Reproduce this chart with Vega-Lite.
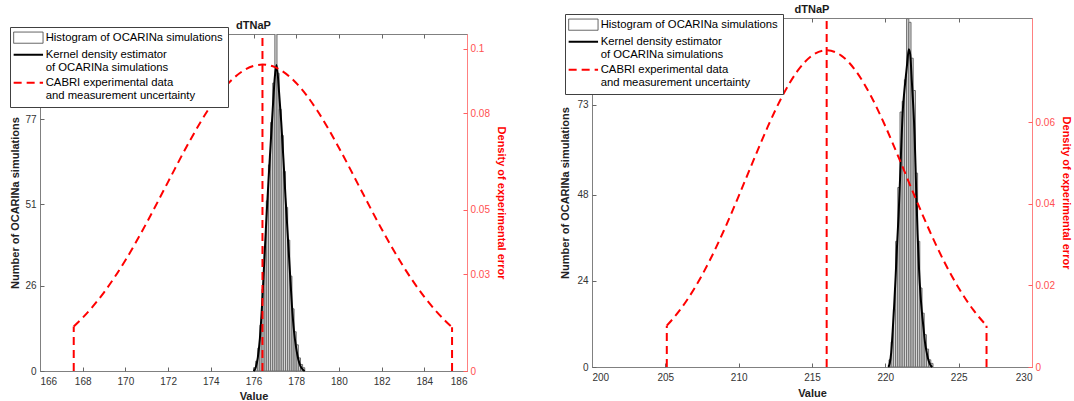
{
  "$schema": "https://vega.github.io/schema/vega-lite/v6.json",
  "padding": {"left": 9, "top": 3, "right": 2, "bottom": 0},
  "background": "white",
  "config": {
    "font": "Liberation Sans",
    "view": {"stroke": null},
    "axis": {"grid": false, "labelFont": "Liberation Sans", "titleFont": "Liberation Sans", "labelFontSize": 10, "titleFontSize": 11, "titleFontWeight": "bold", "labelColor": "#333333", "titleColor": "#222222", "domainColor": "#808080", "tickColor": "#666666"},
    "title": {"font": "Liberation Sans", "fontSize": 11, "fontWeight": "bold", "color": "#1a1a1a"},
    "legend": {"labelFont": "Liberation Sans"}
  },
  "datasets": {
    "histL": [
      {"start": 176.0, "end": 176.1, "count": 1}, {"start": 176.1, "end": 176.2, "count": 3}, {"start": 176.2, "end": 176.3, "count": 7},
      {"start": 176.3, "end": 176.4, "count": 14}, {"start": 176.4, "end": 176.5, "count": 25}, {"start": 176.5, "end": 176.6, "count": 38},
      {"start": 176.6, "end": 176.7, "count": 52}, {"start": 176.7, "end": 176.8, "count": 63}, {"start": 176.8, "end": 176.9, "count": 76},
      {"start": 176.9, "end": 177.0, "count": 88}, {"start": 177.0, "end": 177.1, "count": 110}, {"start": 177.1, "end": 177.2, "count": 91},
      {"start": 177.2, "end": 177.3, "count": 80}, {"start": 177.3, "end": 177.4, "count": 72}, {"start": 177.4, "end": 177.5, "count": 61},
      {"start": 177.5, "end": 177.6, "count": 50}, {"start": 177.6, "end": 177.7, "count": 40}, {"start": 177.7, "end": 177.8, "count": 29},
      {"start": 177.8, "end": 177.9, "count": 19}, {"start": 177.9, "end": 178.0, "count": 12}, {"start": 178.0, "end": 178.1, "count": 8},
      {"start": 178.1, "end": 178.2, "count": 4}, {"start": 178.2, "end": 178.3, "count": 2}, {"start": 178.3, "end": 178.4, "count": 1}
    ],
    "kdeL": [
      {"x": 176.0, "count": 0}, {"x": 176.1, "count": 1}, {"x": 176.2, "count": 4}, {"x": 176.3, "count": 10}, {"x": 176.4, "count": 20},
      {"x": 176.5, "count": 33}, {"x": 176.6, "count": 46}, {"x": 176.7, "count": 58}, {"x": 176.8, "count": 69}, {"x": 176.9, "count": 80},
      {"x": 177.0, "count": 90}, {"x": 177.08, "count": 93.5}, {"x": 177.2, "count": 85}, {"x": 177.3, "count": 76}, {"x": 177.4, "count": 65},
      {"x": 177.5, "count": 53}, {"x": 177.6, "count": 42}, {"x": 177.7, "count": 31}, {"x": 177.8, "count": 20}, {"x": 177.9, "count": 12},
      {"x": 178.0, "count": 7}, {"x": 178.1, "count": 3.5}, {"x": 178.2, "count": 1.5}, {"x": 178.3, "count": 0.5}, {"x": 178.4, "count": 0}
    ],
    "cabL": [
      {"x": 167.58, "d": 0.01381}, {"x": 168, "d": 0.01653}, {"x": 169, "d": 0.02443}, {"x": 170, "d": 0.03437}, {"x": 171, "d": 0.04605},
      {"x": 172, "d": 0.05871}, {"x": 173, "d": 0.07125}, {"x": 174, "d": 0.0823}, {"x": 175, "d": 0.09048}, {"x": 176, "d": 0.09469},
      {"x": 176.42, "d": 0.0951}, {"x": 177, "d": 0.09431}, {"x": 178, "d": 0.08941}, {"x": 179, "d": 0.08069}, {"x": 180, "d": 0.0693},
      {"x": 181, "d": 0.05666}, {"x": 182, "d": 0.04409}, {"x": 183, "d": 0.03265}, {"x": 184, "d": 0.02301}, {"x": 185, "d": 0.01545},
      {"x": 185.3, "d": 0.01357}
    ],
    "vlinesL": [
      {"x": 167.58, "d0": 0, "d1": 0.01381}, {"x": 185.3, "d0": 0, "d1": 0.01357}, {"x": 176.42, "d0": 0, "d1": 0.1046}
    ],
    "histR": [
      {"start": 220.25, "end": 220.4, "count": 2}, {"start": 220.4, "end": 220.55, "count": 7}, {"start": 220.55, "end": 220.7, "count": 16},
      {"start": 220.7, "end": 220.85, "count": 35}, {"start": 220.85, "end": 221.0, "count": 50}, {"start": 221.0, "end": 221.15, "count": 71},
      {"start": 221.15, "end": 221.3, "count": 74}, {"start": 221.3, "end": 221.45, "count": 80}, {"start": 221.45, "end": 221.6, "count": 97},
      {"start": 221.6, "end": 221.75, "count": 96}, {"start": 221.75, "end": 221.9, "count": 86}, {"start": 221.9, "end": 222.05, "count": 77},
      {"start": 222.05, "end": 222.2, "count": 54}, {"start": 222.2, "end": 222.35, "count": 35}, {"start": 222.35, "end": 222.5, "count": 22},
      {"start": 222.5, "end": 222.65, "count": 15}, {"start": 222.65, "end": 222.8, "count": 9}, {"start": 222.8, "end": 222.95, "count": 5},
      {"start": 222.95, "end": 223.1, "count": 2}, {"start": 223.1, "end": 223.25, "count": 1}
    ],
    "kdeR": [
      {"x": 220.2, "count": 0}, {"x": 220.3, "count": 1}, {"x": 220.4, "count": 4}, {"x": 220.5, "count": 10}, {"x": 220.6, "count": 17},
      {"x": 220.7, "count": 25}, {"x": 220.8, "count": 34}, {"x": 220.9, "count": 42}, {"x": 221.0, "count": 52}, {"x": 221.1, "count": 63},
      {"x": 221.2, "count": 72}, {"x": 221.3, "count": 77}, {"x": 221.4, "count": 81}, {"x": 221.5, "count": 85}, {"x": 221.6, "count": 88.5},
      {"x": 221.7, "count": 87}, {"x": 221.8, "count": 80}, {"x": 221.9, "count": 73}, {"x": 222.0, "count": 64}, {"x": 222.1, "count": 50},
      {"x": 222.2, "count": 37}, {"x": 222.3, "count": 27}, {"x": 222.4, "count": 20}, {"x": 222.5, "count": 15}, {"x": 222.6, "count": 11},
      {"x": 222.7, "count": 7}, {"x": 222.8, "count": 4.5}, {"x": 222.9, "count": 2.5}, {"x": 223.0, "count": 1.2}, {"x": 223.1, "count": 0.4},
      {"x": 223.2, "count": 0}
    ],
    "cabR": [
      {"x": 205.1, "d": 0.01013}, {"x": 206, "d": 0.01399}, {"x": 207, "d": 0.01938}, {"x": 208, "d": 0.02593}, {"x": 209, "d": 0.03354},
      {"x": 210, "d": 0.04191}, {"x": 211, "d": 0.05061}, {"x": 212, "d": 0.05906}, {"x": 213, "d": 0.06659}, {"x": 214, "d": 0.07255},
      {"x": 215, "d": 0.07638}, {"x": 216, "d": 0.0777}, {"x": 217, "d": 0.07638}, {"x": 218, "d": 0.07255}, {"x": 219, "d": 0.06659},
      {"x": 220, "d": 0.05906}, {"x": 221, "d": 0.05061}, {"x": 222, "d": 0.04191}, {"x": 223, "d": 0.03354}, {"x": 224, "d": 0.02593},
      {"x": 225, "d": 0.01938}, {"x": 226, "d": 0.01399}, {"x": 226.9, "d": 0.01013}
    ],
    "vlinesR": [
      {"x": 205.1, "d0": 0, "d1": 0.01013}, {"x": 226.9, "d0": 0, "d1": 0.01013}, {"x": 216.0, "d0": 0, "d1": 0.0856}
    ]
  },
  "spacing": 52,
  "resolve": {"scale": {"x": "independent", "y": "independent", "color": "independent"}, "legend": {"color": "independent"}},
  "hconcat": [
    {
      "spacing": 0,
      "resolve": {"scale": {"x": "independent", "y": "independent", "color": "independent"}, "legend": {"color": "independent"}},
      "vconcat": [
        {"width": 427, "height": 1, "data": {"values": []}, "mark": {"type": "point"}, "encoding": {}},
        {
          "width": 427,
          "height": 337,
          "title": {"text": "dTNaP", "offset": -4, "anchor": "middle", "frame": "group"},
          "resolve": {"scale": {"x": "independent", "y": "independent"}},
          "layer": [
            {
              "data": {"name": "histL"},
              "mark": {"type": "bar", "fill": "#d6d6d6", "stroke": "#6e6e6e", "strokeWidth": 1, "clip": true},
              "encoding": {
                "x": {"field": "start", "type": "quantitative", "scale": {"domain": [166, 186], "nice": false, "zero": false},
                      "axis": {"orient": "bottom", "values": [166, 168, 170, 172, 174, 176, 178, 180, 182, 184, 186], "title": "Value", "ticks": false, "tickSize": 0, "labelPadding": 5, "titlePadding": 4}},
                "x2": {"field": "end"},
                "y": {"field": "count", "type": "quantitative", "scale": {"domain": [0, 103], "nice": false},
                      "axis": {"orient": "left", "values": [0, 26, 51, 77], "title": "Number of OCARINa simulations", "ticks": false, "tickSize": 0, "labelPadding": 4, "titlePadding": 4}},
                "y2": {"datum": 0}
              }
            },
            {
              "data": {"name": "kdeL"},
              "mark": {"type": "line", "strokeWidth": 2, "interpolate": "monotone"},
              "encoding": {
                "x": {"field": "x", "type": "quantitative", "scale": {"domain": [166, 186], "nice": false, "zero": false},
                      "axis": {"orient": "bottom", "values": [166, 168, 170, 172, 174, 176, 178, 180, 182, 184, 186], "domain": false, "labels": false, "title": null, "tickSize": 4, "offset": -4}},
                "y": {"field": "count", "type": "quantitative", "scale": {"domain": [0, 103], "nice": false},
                      "axis": {"orient": "left", "values": [0, 26, 51, 77], "domain": false, "labels": false, "title": null, "tickSize": 4, "offset": -4}},
                "color": {"datum": "K", "type": "nominal", "scale": {"domain": ["H", "K", "C"], "range": ["#505050", "black", "red"]},
                          "legend": {
                            "orient": "none", "legendX": -30, "legendY": -7, "title": null,
                            "strokeColor": "#404040", "fillColor": "white", "padding": 5,
                            "labelFontSize": 11.3, "labelColor": "#000000", "labelLimit": 400, "labelOffset": 19.4, "rowPadding": 2,
                            "symbolSize": 196,
                            "symbolType": {"expr": "datum.value == 'H' ? 'M-1,-0.8H3.2V0.8H-1Z' : 'M-1,0H3.2'"},
                            "symbolDash": {"expr": "datum.value == 'C' ? [8, 5] : [1, 0]"},
                            "symbolStrokeWidth": {"expr": "datum.value == 'H' ? 1 : 2"},
                            "symbolFillColor": "white",
                            "labelExpr": "datum.value == 'H' ? 'Histogram of OCARINa simulations' : datum.value == 'K' ? ['Kernel density estimator', '\u00a0of OCARINa simulations'] : ['CABRI experimental data', '\u00a0and measurement uncertainty']"
                          }}
              }
            },
            {
              "data": {"name": "cabL"},
              "mark": {"type": "line", "strokeWidth": 2, "strokeDash": [8, 5], "interpolate": "monotone"},
              "encoding": {
                "x": {"field": "x", "type": "quantitative", "scale": {"domain": [166, 186], "nice": false, "zero": false},
                      "axis": {"orient": "top", "values": [166, 186], "ticks": false, "labels": false, "title": null}},
                "y": {"field": "d", "type": "quantitative", "scale": {"domain": [0, 0.1046], "nice": false},
                      "axis": {"orient": "right", "values": [0, 0.03, 0.05, 0.08, 0.1], "format": "~g", "title": "Density of experimental error", "titleColor": "red", "labelColor": "#ff5050", "domainColor": "#ff8080", "ticks": false, "tickSize": 0, "labelPadding": 3, "titlePadding": 6}},
                "color": {"datum": "C", "type": "nominal", "scale": {"domain": ["H", "K", "C"], "range": ["#505050", "black", "red"]}, "legend": null}
              }
            },
            {
              "data": {"name": "vlinesL"},
              "mark": {"type": "rule", "strokeWidth": 2, "strokeDash": [8, 5]},
              "encoding": {
                "x": {"field": "x", "type": "quantitative", "scale": {"domain": [166, 186], "nice": false, "zero": false},
                      "axis": {"orient": "top", "values": [166, 168, 170, 172, 174, 176, 178, 180, 182, 184, 186], "domain": false, "labels": false, "title": null, "tickSize": 4, "offset": -4}},
                "y": {"field": "d0", "type": "quantitative", "scale": {"domain": [0, 0.1046], "nice": false},
                      "axis": {"orient": "right", "values": [0, 0.03, 0.05, 0.08, 0.1], "domain": false, "labels": false, "title": null, "tickSize": 4, "offset": -4, "tickColor": "#ff6060"}},
                "y2": {"field": "d1"},
                "color": {"datum": "C", "type": "nominal", "scale": {"domain": ["H", "K", "C"], "range": ["#505050", "black", "red"]}, "legend": null}
              }
            }
          ]
        }
      ]
    },
    {
      "width": 440,
      "height": 349,
      "title": {"text": "dTNaP", "offset": -1, "anchor": "middle", "frame": "group"},
      "resolve": {"scale": {"x": "independent", "y": "independent"}},
      "layer": [
        {
          "data": {"name": "histR"},
          "mark": {"type": "bar", "fill": "#d6d6d6", "stroke": "#6e6e6e", "strokeWidth": 1, "clip": true},
          "encoding": {
            "x": {"field": "start", "type": "quantitative", "scale": {"domain": [200, 230], "nice": false, "zero": false},
                  "axis": {"orient": "bottom", "values": [200, 205, 210, 215, 220, 225, 230], "title": "Value", "ticks": false, "tickSize": 0, "labelPadding": 5, "titlePadding": 5}},
            "x2": {"field": "end"},
            "y": {"field": "count", "type": "quantitative", "scale": {"domain": [0, 97.2], "nice": false},
                  "axis": {"orient": "left", "values": [0, 24, 48, 73], "title": "Number of OCARINa simulations", "ticks": false, "tickSize": 0, "labelPadding": 4, "titlePadding": 6}},
            "y2": {"datum": 0}
          }
        },
        {
          "data": {"name": "kdeR"},
          "mark": {"type": "line", "strokeWidth": 2, "interpolate": "monotone"},
          "encoding": {
            "x": {"field": "x", "type": "quantitative", "scale": {"domain": [200, 230], "nice": false, "zero": false},
                  "axis": {"orient": "bottom", "values": [200, 205, 210, 215, 220, 225, 230], "domain": false, "labels": false, "title": null, "tickSize": 4, "offset": -4}},
            "y": {"field": "count", "type": "quantitative", "scale": {"domain": [0, 97.2], "nice": false},
                  "axis": {"orient": "left", "values": [0, 24, 48, 73], "domain": false, "labels": false, "title": null, "tickSize": 4, "offset": -4}},
            "color": {"datum": "K", "type": "nominal", "scale": {"domain": ["H", "K", "C"], "range": ["#505050", "black", "red"]},
                      "legend": {
                        "orient": "none", "legendX": -27, "legendY": -4, "title": null,
                        "strokeColor": "#404040", "fillColor": "white", "padding": 5,
                        "labelFontSize": 11.3, "labelColor": "#000000", "labelLimit": 400, "labelOffset": 19.4, "rowPadding": 2,
                        "symbolSize": 196,
                        "symbolType": {"expr": "datum.value == 'H' ? 'M-1,-0.8H3.2V0.8H-1Z' : 'M-1,0H3.2'"},
                        "symbolDash": {"expr": "datum.value == 'C' ? [8, 5] : [1, 0]"},
                        "symbolStrokeWidth": {"expr": "datum.value == 'H' ? 1 : 2"},
                        "symbolFillColor": "white",
                        "labelExpr": "datum.value == 'H' ? 'Histogram of OCARINa simulations' : datum.value == 'K' ? ['Kernel density estimator', '\u00a0of OCARINa simulations'] : ['CABRI experimental data', '\u00a0and measurement uncertainty']"
                      }}
          }
        },
        {
          "data": {"name": "cabR"},
          "mark": {"type": "line", "strokeWidth": 2, "strokeDash": [8, 5], "interpolate": "monotone"},
          "encoding": {
            "x": {"field": "x", "type": "quantitative", "scale": {"domain": [200, 230], "nice": false, "zero": false},
                  "axis": {"orient": "top", "values": [200, 230], "ticks": false, "labels": false, "title": null}},
            "y": {"field": "d", "type": "quantitative", "scale": {"domain": [0, 0.0856], "nice": false},
                  "axis": {"orient": "right", "values": [0, 0.02, 0.04, 0.06], "format": "~g", "title": "Density of experimental error", "titleColor": "red", "labelColor": "#ff5050", "domainColor": "#ff8080", "ticks": false, "tickSize": 0, "labelPadding": 3, "titlePadding": 6}},
            "color": {"datum": "C", "type": "nominal", "scale": {"domain": ["H", "K", "C"], "range": ["#505050", "black", "red"]}, "legend": null}
          }
        },
        {
          "data": {"name": "vlinesR"},
          "mark": {"type": "rule", "strokeWidth": 2, "strokeDash": [8, 5]},
          "encoding": {
            "x": {"field": "x", "type": "quantitative", "scale": {"domain": [200, 230], "nice": false, "zero": false},
                  "axis": {"orient": "top", "values": [200, 205, 210, 215, 220, 225, 230], "domain": false, "labels": false, "title": null, "tickSize": 4, "offset": -4}},
            "y": {"field": "d0", "type": "quantitative", "scale": {"domain": [0, 0.0856], "nice": false},
                  "axis": {"orient": "right", "values": [0, 0.02, 0.04, 0.06], "domain": false, "labels": false, "title": null, "tickSize": 4, "offset": -4, "tickColor": "#ff6060"}},
            "y2": {"field": "d1"},
            "color": {"datum": "C", "type": "nominal", "scale": {"domain": ["H", "K", "C"], "range": ["#505050", "black", "red"]}, "legend": null}
          }
        }
      ]
    }
  ]
}
